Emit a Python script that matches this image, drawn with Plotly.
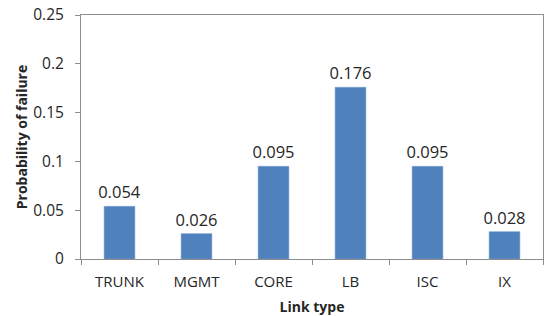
import plotly.graph_objects as go

categories = ["TRUNK", "MGMT", "CORE", "LB", "ISC", "IX"]
values = [0.054, 0.026, 0.095, 0.176, 0.095, 0.028]
value_labels = ["0.054", "0.026", "0.095", "0.176", "0.095", "0.028"]
y_ticks = [0, 0.05, 0.1, 0.15, 0.2, 0.25]
y_tick_labels = ["0", "0.05", "0.1", "0.15", "0.2", "0.25"]

font_family = "'Open Sans', Lato, sans-serif"

fig = go.Figure(go.Bar(
    x=categories, y=values,
    marker=dict(color="#4F81BD", line=dict(color="#7FA3D1", width=0.5)),
    text=value_labels, textposition="outside", constraintext="none",
    textfont=dict(size=16.5, color="#262626", family=font_family),
    cliponaxis=False,
))

fig.update_layout(
    width=547, height=316,
    margin=dict(l=81, r=4, t=15, b=57, autoexpand=False),
    plot_bgcolor="white", paper_bgcolor="white",
    bargap=0.6,
    showlegend=False,
    font=dict(family=font_family, size=15, color="#262626"),
)
fig.update_xaxes(
    automargin=False,
    showline=True, linecolor="#8c8c8c", linewidth=1, mirror=True,
    ticks="outside", tickson="boundaries", ticklen=5, tickcolor="#8c8c8c",
    tickfont=dict(size=15), ticklabelstandoff=9,
    title=dict(text="<b>Link type</b>", font=dict(size=14), standoff=12),
)
fig.update_yaxes(
    automargin=False, ticklabeloverflow="allow",
    range=[0, 0.25], tickvals=y_ticks, ticktext=y_tick_labels,
    showline=True, linecolor="#8c8c8c", linewidth=1, mirror=True,
    ticks="outside", ticklen=5, tickcolor="#8c8c8c",
    showgrid=False, zeroline=False,
    tickfont=dict(size=15.5), ticklabelstandoff=8,
    title=dict(text="<b>Probability of failure</b>", font=dict(size=14), standoff=2),
)

fig.write_html("out.html", config={"displayModeBar": False},
               post_script="document.body.style.margin='0';")
